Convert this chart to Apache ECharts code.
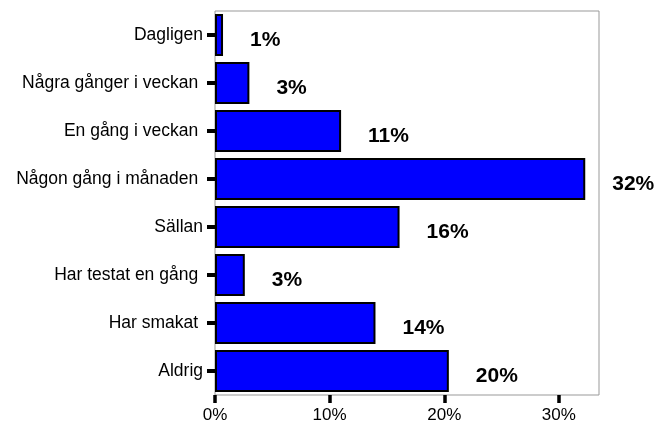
<!DOCTYPE html>
<html>
<head>
<meta charset="UTF-8">
<title>Frekvens</title>
<script src="https://cdn.jsdelivr.net/npm/echarts@6/dist/echarts.min.js"></script>
<style>
  body { margin: 0; background: #fff; }
  #chart { width: 658px; height: 425px; }
</style>
</head>
<body>
<div id="chart"></div>
<script>
// categories, top to bottom (trailing spaces as in the original labels)
const categories = ['Dagligen', 'Några gånger i veckan ', 'En gång i veckan ', 'Någon gång i månaden ',
  'Sällan', 'Har testat en gång ', 'Har smakat ', 'Aldrig'];
// share in percent
const shares = [0.7, 3.0, 11.0, 32.3, 16.1, 2.6, 14.0, 20.4];
const xTicks = [0, 10, 20, 30];

const font = 'Liberation Sans, Arial, sans-serif';
const chart = echarts.init(document.getElementById('chart'));
chart.setOption({
    animation: false,
    grid: { left: 215, right: 59, top: 11, bottom: 30, show: true, borderColor: '#999', borderWidth: 1 },
    xAxis: {
        type: 'value', min: 0, max: 33.5,
        axisLine: { show: false },
        splitLine: { show: false },
        axisTick: { show: true, customValues: xTicks, length: 8, lineStyle: { color: '#000', width: 3.5 } },
        axisLabel: { customValues: xTicks, formatter: '{value}%', color: '#000', fontSize: 17, fontFamily: font, margin: 12 }
    },
    yAxis: {
        type: 'category', data: categories, inverse: true,
        axisLine: { show: false },
        axisTick: { show: true, alignWithLabel: true, length: 8, lineStyle: { color: '#000', width: 4 } },
        axisLabel: { color: '#000', fontSize: 17.5, fontFamily: font, margin: 12, interval: 0, padding: [6, 0, 0, 0] }
    },
    series: [{
        type: 'bar',
        data: shares,
        barCategoryGap: '12%',
        itemStyle: { color: '#0000ff', borderColor: '#000', borderWidth: 2 },
        label: {
            show: true, position: 'right', distance: 27, offset: [0, 5],
            formatter: p => Math.round(p.value) + '%',
            color: '#000', fontSize: 21, fontWeight: 'bold', fontFamily: font
        }
    }]
});
</script>
</body>
</html>
